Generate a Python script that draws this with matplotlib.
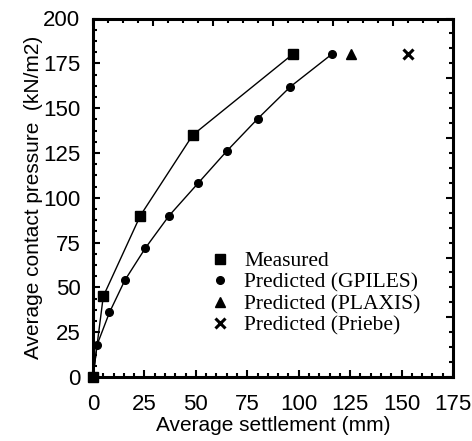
import matplotlib
matplotlib.use("Agg")
import matplotlib.pyplot as plt
from matplotlib.ticker import MultipleLocator
from matplotlib.lines import Line2D

# Data
measured_x = [0, 5, 23, 48.5, 97]
measured_y = [0, 45, 90, 135, 180]
gpiles_x = [0, 2, 8, 15.5, 25.5, 37, 51, 65, 80, 96, 116]
gpiles_y = [0, 18, 36, 54, 72, 90, 108, 126, 144, 162, 180]
plaxis_x = [125.5]
plaxis_y = [180]
priebe_x = [153]
priebe_y = [180]

xlabel = "Average settlement (mm)"
ylabel = "Average contact pressure  (kN/m2)"
labels = ["Measured", "Predicted (GPILES)", "Predicted (PLAXIS)", "Predicted (Priebe)"]

plt.rcParams['font.family'] = ['Liberation Sans', 'DejaVu Sans']

fig = plt.figure(figsize=(4.72, 4.41), dpi=100)
pos = [93/472, (441-377)/441, 360/472, 358.5/441]
ax = fig.add_axes(pos)

ax.plot(measured_x, measured_y, color='black', lw=1.0, marker='s', ms=7.5,
        clip_on=False, zorder=5)
ax.plot(gpiles_x, gpiles_y, color='black', lw=1.0, marker='o', ms=5.5,
        clip_on=False, zorder=4)
ax.plot(plaxis_x, plaxis_y, color='black', lw=0, marker='^', ms=7,
        clip_on=False, zorder=4)
ax.plot(priebe_x, priebe_y, color='black', lw=0, marker='x', ms=6.5, mew=2.2,
        clip_on=False, zorder=4)

ax.set_xlim(0, 175)
ax.set_ylim(0, 200)
ax.xaxis.set_major_locator(MultipleLocator(25))
ax.xaxis.set_minor_locator(MultipleLocator(5))
ax.yaxis.set_major_locator(MultipleLocator(25))
ax.yaxis.set_minor_locator(MultipleLocator(6.25))
ax.tick_params(which='both', direction='in', top=False, right=False, width=1.5)
ax.tick_params(which='major', length=5, labelsize=16, pad=9)
ax.tick_params(which='minor', length=3)
ax.tick_params(axis='x', which='major', pad=12)

for s in ax.spines.values():
    s.set_linewidth(2.2)

ax.set_xlabel(xlabel, fontsize=15, labelpad=1)
ax.set_ylabel(ylabel, fontsize=15, labelpad=0)

handles = [
    Line2D([], [], color='black', ls='none', marker='s', ms=7.5),
    Line2D([], [], color='black', ls='none', marker='o', ms=5.5),
    Line2D([], [], color='black', ls='none', marker='^', ms=7),
    Line2D([], [], color='black', ls='none', marker='x', ms=6.5, mew=2.2),
]
leg = ax.legend(handles, labels, loc='lower left', bbox_to_anchor=(0.33, 0.115),
                frameon=False,
                prop={'family': ['Liberation Serif'], 'size': 15.5},
                handlelength=0.8, handletextpad=0.7, labelspacing=0.07,
                borderaxespad=0, borderpad=0)

# top/right box ticks (independent division of the frame)
ax2 = fig.add_axes(pos)
ax2.set_xlim(0, 6)
ax2.set_ylim(0, 6)
ax2.patch.set_visible(False)
for s in ax2.spines.values():
    s.set_visible(False)
ax2.xaxis.set_major_locator(MultipleLocator(1))
ax2.xaxis.set_minor_locator(MultipleLocator(0.25))
ax2.yaxis.set_major_locator(MultipleLocator(1))
ax2.yaxis.set_minor_locator(MultipleLocator(0.25))
ax2.tick_params(which='both', direction='in', top=True, right=True, bottom=False,
                left=False, labelbottom=False, labelleft=False, width=1.5)
ax2.tick_params(which='major', length=5)
ax2.tick_params(which='minor', length=3)

fig.savefig('out.png', dpi=100)
